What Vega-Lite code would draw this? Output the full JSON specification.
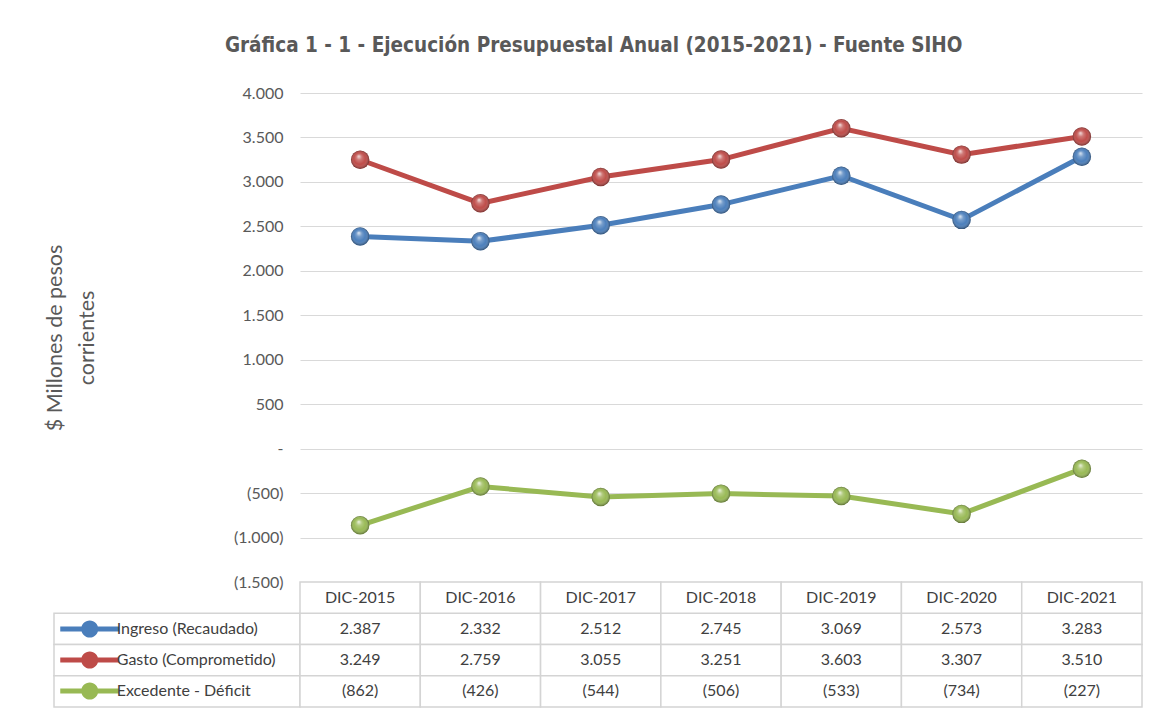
{
  "$schema": "https://vega.github.io/schema/vega-lite/v6.json",
  "background": "white",
  "padding": {"left": 44, "top": 35, "right": 14, "bottom": 8},
  "title": {
    "text": "Gráfica 1 - 1 - Ejecución Presupuestal Anual (2015-2021) - Fuente SIHO",
    "font": "Liberation Sans Narrow, DejaVu Sans Condensed, sans-serif",
    "fontSize": 20.5,
    "fontWeight": "bold",
    "color": "#595959",
    "anchor": "middle",
    "offset": 29
  },
  "config": {
    "view": {"stroke": null},
    "font": "Lato",
    "locale": {"number": {"decimal": ",", "thousands": ".", "grouping": [3], "currency": ["$", ""]}}
  },
  "datasets": {
    "main": [
      {"year": "DIC-2015", "series": "Ingreso (Recaudado)", "value": 2387},
      {"year": "DIC-2016", "series": "Ingreso (Recaudado)", "value": 2332},
      {"year": "DIC-2017", "series": "Ingreso (Recaudado)", "value": 2512},
      {"year": "DIC-2018", "series": "Ingreso (Recaudado)", "value": 2745},
      {"year": "DIC-2019", "series": "Ingreso (Recaudado)", "value": 3069},
      {"year": "DIC-2020", "series": "Ingreso (Recaudado)", "value": 2573},
      {"year": "DIC-2021", "series": "Ingreso (Recaudado)", "value": 3283},
      {"year": "DIC-2015", "series": "Gasto (Comprometido)", "value": 3249},
      {"year": "DIC-2016", "series": "Gasto (Comprometido)", "value": 2759},
      {"year": "DIC-2017", "series": "Gasto (Comprometido)", "value": 3055},
      {"year": "DIC-2018", "series": "Gasto (Comprometido)", "value": 3251},
      {"year": "DIC-2019", "series": "Gasto (Comprometido)", "value": 3603},
      {"year": "DIC-2020", "series": "Gasto (Comprometido)", "value": 3307},
      {"year": "DIC-2021", "series": "Gasto (Comprometido)", "value": 3510},
      {"year": "DIC-2015", "series": "Excedente - Déficit", "value": -862},
      {"year": "DIC-2016", "series": "Excedente - Déficit", "value": -426},
      {"year": "DIC-2017", "series": "Excedente - Déficit", "value": -544},
      {"year": "DIC-2018", "series": "Excedente - Déficit", "value": -506},
      {"year": "DIC-2019", "series": "Excedente - Déficit", "value": -533},
      {"year": "DIC-2020", "series": "Excedente - Déficit", "value": -734},
      {"year": "DIC-2021", "series": "Excedente - Déficit", "value": -227}
    ]
  },
  "data": {"name": "main"},
  "columns": 2,
  "spacing": 0,
  "bounds": "flush",
  "concat": [
    {
      "width": 246,
      "height": 489,
      "mark": {"type": "text", "text": ""},
      "encoding": {}
    },
    {
      "width": 842,
      "height": 489,
      "encoding": {
        "x": {"field": "year", "type": "ordinal", "axis": null, "scale": {"type": "point", "padding": 0.5}},
        "y": {
          "field": "value",
          "type": "quantitative",
          "scale": {"domain": [-1500, 4000], "nice": false, "zero": false},
          "axis": {
            "values": [-1500, -1000, -500, 0, 500, 1000, 1500, 2000, 2500, 3000, 3500, 4000],
            "format": "(,d",
            "labelExpr": "datum.value == 0 ? '-' : datum.label",
            "labelFont": "Lato",
            "labelFontSize": 16,
            "labelColor": "#595959",
            "labelPadding": 17,
            "ticks": false,
            "domain": false,
            "grid": true,
            "gridColor": "#d9d9d9",
            "gridWidth": 1.2,
            "title": ["$ Millones de pesos", "corrientes"],
            "titleFont": "Lato",
            "titleFontSize": 21.5,
            "titleFontWeight": "normal",
            "titleColor": "#595959",
            "titleLineHeight": 32,
            "titlePadding": 135
          }
        }
      },
      "layer": [
        {
          "mark": {"type": "line", "strokeWidth": 5},
          "encoding": {
            "color": {
              "field": "series",
              "type": "nominal",
              "scale": {
                "domain": ["Ingreso (Recaudado)", "Gasto (Comprometido)", "Excedente - Déficit"],
                "range": ["#4a7ebb", "#be4b48", "#98b954"]
              },
              "legend": {
                "orient": "none",
                "legendX": 20.75,
                "legendY": 521,
                "direction": "vertical",
                "title": null,
                "padding": 0,
                "symbolType": "M-2,-0.17L2,-0.17L2,0.17L-2,0.17ZM-0.58,0A0.58,0.58,0,1,1,0.58,0A0.58,0.58,0,1,1,-0.58,0Z",
                "symbolSize": 870,
                "symbolStrokeWidth": 0,
                "labelFont": "Lato",
                "labelFontSize": 16,
                "labelColor": "#404040",
                "labelOffset": 12,
                "labelLimit": 300,
                "rowPadding": 7,
                "encode": {
                  "symbols": {
                    "update": {
                      "fill": {"scale": "color", "field": "value"},
                      "stroke": {"value": "transparent"},
                      "strokeWidth": {"value": 0},
                      "opacity": {"value": 1}
                    }
                  }
                }
              }
            }
          }
        },
        {
          "mark": {"type": "point", "filled": true, "size": 340, "opacity": 1},
          "encoding": {
            "color": {"field": "series", "type": "nominal"}
          }
        },
        {
          "mark": {
            "type": "point",
            "filled": true,
            "size": 340,
            "opacity": 1,
            "fill": {
              "gradient": "radial",
              "x1": 0.42, "y1": 0.3, "r1": 0,
              "x2": 0.5, "y2": 0.5, "r2": 0.5,
              "stops": [
                {"offset": 0, "color": "rgba(255,255,255,0.85)"},
                {"offset": 0.3, "color": "rgba(255,255,255,0.25)"},
                {"offset": 0.65, "color": "rgba(255,255,255,0)"},
                {"offset": 1, "color": "rgba(0,0,0,0.4)"}
              ]
            }
          }
        }
      ]
    },
    {
      "width": 246,
      "height": 125,
      "transform": [{"aggregate": [{"op": "count", "as": "n"}], "groupby": ["series"]}],
      "mark": {"type": "rect", "fill": "white", "stroke": "#d4d4d4", "strokeWidth": 1.5},
      "encoding": {
        "y": {
          "field": "series",
          "type": "nominal",
          "axis": null,
          "scale": {
            "domain": ["header", "Ingreso (Recaudado)", "Gasto (Comprometido)", "Excedente - Déficit"],
            "paddingInner": 0,
            "paddingOuter": 0
          }
        }
      }
    },
    {
      "width": 842,
      "height": 125,
      "encoding": {
        "x": {"field": "year", "type": "ordinal", "axis": null, "scale": {"paddingInner": 0, "paddingOuter": 0}},
        "y": {
          "field": "series",
          "type": "nominal",
          "axis": null,
          "scale": {
            "domain": ["header", "Ingreso (Recaudado)", "Gasto (Comprometido)", "Excedente - Déficit"],
            "paddingInner": 0,
            "paddingOuter": 0
          }
        }
      },
      "layer": [
        {
          "mark": {"type": "rect", "fill": "white", "stroke": "#d4d4d4", "strokeWidth": 1.5}
        },
        {
          "transform": [{"aggregate": [{"op": "count", "as": "n"}], "groupby": ["year"]}],
          "mark": {"type": "rect", "fill": "white", "stroke": "#d4d4d4", "strokeWidth": 1.5},
          "encoding": {"y": {"datum": "header", "type": "nominal"}}
        },
        {
          "mark": {"type": "text", "font": "Lato", "fontSize": 16, "color": "#404040"},
          "encoding": {"text": {"field": "value", "type": "quantitative", "format": "(,d"}}
        },
        {
          "transform": [{"aggregate": [{"op": "count", "as": "n"}], "groupby": ["year"]}],
          "mark": {"type": "text", "font": "Lato", "fontSize": 16, "color": "#404040"},
          "encoding": {
            "y": {"datum": "header", "type": "nominal"},
            "text": {"field": "year", "type": "nominal"}
          }
        }
      ]
    }
  ]
}
